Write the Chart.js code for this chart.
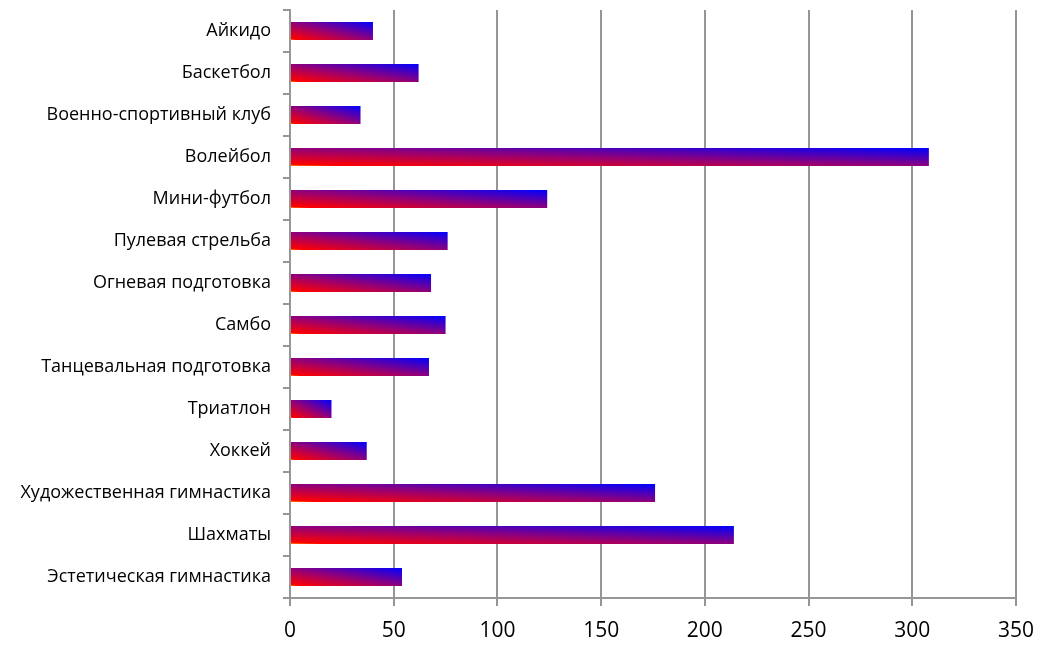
<!DOCTYPE html>
<html>
<head>
<meta charset="utf-8">
<script src="https://cdn.jsdelivr.net/npm/chart.js@4/dist/chart.umd.min.js"></script>
<style>
  html, body { margin: 0; padding: 0; background: #fff; }
  #wrap { width: 1043px; height: 647px; }
</style>
</head>
<body>
<div id="wrap"><canvas id="sportChart" width="1043" height="647"></canvas></div>
<script>
// sections
const categories = [
    "Айкидо",
    "Баскетбол",
    "Военно-спортивный клуб",
    "Волейбол",
    "Мини-футбол",
    "Пулевая стрельба",
    "Огневая подготовка",
    "Самбо",
    "Танцевальная подготовка",
    "Триатлон",
    "Хоккей",
    "Художественная гимнастика",
    "Шахматы",
    "Эстетическая гимнастика"
];

// number of pupils per section
const counts = [40, 62, 34, 308, 124, 76, 68, 75, 67, 20, 37, 176, 214, 54];

// x axis
const xMin = 0;
const xMax = 350;
const xStep = 50;

const BAR_PCT = 0.43;
const GRID = "#969696";

// diagonal red -> blue fill inside each bar (bottom-left to top-right)
function barFill(ctx) {
    const chart = ctx.chart;
    const xs = chart.scales.x, ys = chart.scales.y;
    if (!xs || !ys || ctx.type !== "data") return "#900078";

    const x0 = xs.getPixelForValue(0);
    const x1 = xs.getPixelForValue(ctx.raw);
    const step = Math.abs(ys.getPixelForValue(1) - ys.getPixelForValue(0));
    const cy = ys.getPixelForValue(ctx.dataIndex);
    if (![x0, x1, step, cy].every(Number.isFinite) || step === 0) return "#900078";

    const h = step * BAR_PCT;
    const w = Math.max(1, x1 - x0);
    const yb = cy + h / 2;

    // t = (u + v) / 2 in bar coordinates
    const gx = 1 / (2 * w), gy = -1 / (2 * h);
    const g2 = gx * gx + gy * gy;
    const grad = chart.ctx.createLinearGradient(x0, yb, x0 + gx / g2, yb + gy / g2);
    grad.addColorStop(0, "#ff9a00");
    grad.addColorStop(0.05, "#ff0000");
    grad.addColorStop(0.5, "#8e007c");
    grad.addColorStop(1, "#0000ff");
    return grad;
}

const ctx = document.getElementById("sportChart").getContext("2d");

new Chart(ctx, {
    type: "bar",
    data: {
        labels: categories,
        datasets: [{
            data: counts,
            backgroundColor: barFill,
            borderWidth: 0,
            barPercentage: BAR_PCT,
            categoryPercentage: 1
        }]
    },
    options: {
        indexAxis: "y",
        responsive: false,
        animation: false,
        layout: { padding: { top: 10, right: 27, left: 0, bottom: 0 } },
        plugins: {
            legend: { display: false },
            tooltip: { enabled: false }
        },
        scales: {
            x: {
                min: xMin,
                max: xMax,
                ticks: {
                    stepSize: xStep,
                    color: "#000",
                    padding: 12,
                    font: { family: "Open Sans", size: 21 }
                },
                grid: {
                    color: GRID,
                    lineWidth: 2,
                    tickLength: 8
                },
                border: { color: GRID, width: 2 },
                afterFit: s => { s.height = 49; s.paddingLeft = 0; s.paddingRight = 0; }
            },
            y: {
                ticks: {
                    color: "#000",
                    padding: 12,
                    font: { family: "Open Sans", size: 18 }
                },
                grid: {
                    color: GRID,
                    lineWidth: 2,
                    tickLength: 7,
                    drawOnChartArea: false,
                    offset: true
                },
                border: { color: GRID, width: 2 },
                afterFit: s => { s.width = 290; s.paddingTop = 0; s.paddingBottom = 0; }
            }
        }
    }
});
</script>
</body>
</html>
